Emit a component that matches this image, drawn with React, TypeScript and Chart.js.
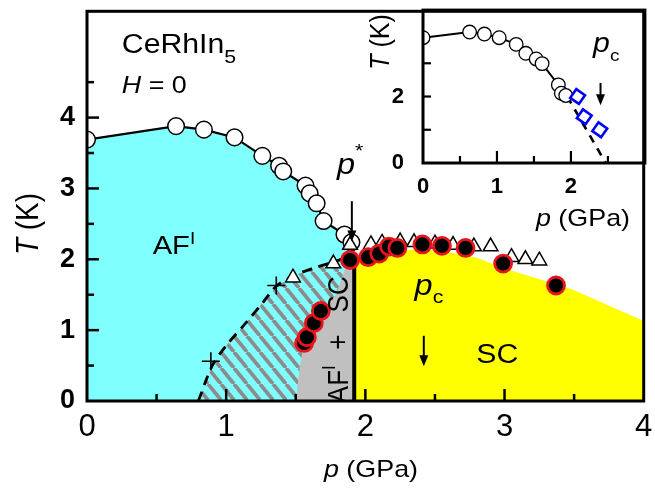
import React, { useEffect, useRef } from 'react';
import { Chart, registerables } from 'chart.js';
Chart.register(...registerables);

// ---------- main phase diagram data (p in GPa, T in K) ----------
const afP = [0, 0.64, 0.84, 1.06, 1.26, 1.38, 1.41, 1.57, 1.6, 1.65, 1.7, 1.85, 1.9];
const afT = [3.69, 3.88, 3.83, 3.72, 3.46, 3.32, 3.24, 3.04, 2.93, 2.79, 2.54, 2.35, 2.24];

const triP = [1.48, 1.77, 1.89, 2.04, 2.12, 2.25, 2.35, 2.5, 2.63, 2.78, 2.9, 3.05, 3.15, 3.25];
const triT = [1.74, 1.94, 2.2, 2.21, 2.23, 2.25, 2.24, 2.22, 2.2, 2.18, 2.18, 2.03, 2.0, 1.98];

const scP = [1.56, 1.58, 1.63, 1.68, 1.89, 2.02, 2.1, 2.17, 2.23, 2.41, 2.55, 2.72, 2.99, 3.37];
const scT = [0.82, 0.9, 1.1, 1.27, 1.99, 2.03, 2.08, 2.18, 2.16, 2.21, 2.19, 2.16, 1.94, 1.63];

const crossP = [0.89, 1.36];
const crossT = [0.56, 1.63];

const dashP = [0.8, 0.9, 1.0, 1.14, 1.26, 1.36, 1.5, 1.65, 1.8, 1.9];
const dashT = [0, 0.5, 0.78, 1.1, 1.38, 1.62, 1.78, 1.89, 1.98, 2.05];

const grayP = [1.5, 1.53, 1.56, 1.62, 1.7, 1.79, 1.86, 1.9, 1.92];
const grayT = [0, 0.5, 0.82, 1.1, 1.3, 1.5, 1.9, 2.0, 2.0];

const yelP = [1.92, 2.1, 2.4, 2.6, 2.8, 3.0, 3.48, 4.0];
const yelT = [1.98, 2.08, 2.15, 2.1, 2.02, 1.87, 1.58, 1.13];

const cyanEndP = [1.92];
const cyanEndT = [2.1];

const pcLineP = [1.92, 1.92];
const pcLineT = [0, 1.98];

// ---------- inset data ----------
const inCircP = [0, 0.63, 0.83, 1.03, 1.26, 1.39, 1.53, 1.61, 1.83, 1.87, 1.93];
const inCircT = [3.77, 3.94, 3.88, 3.77, 3.57, 3.3, 3.13, 2.99, 2.35, 2.1, 2.03];
const inSqP = [2.09, 2.18, 2.39];
const inSqT = [2.0, 1.39, 1.0];
const inDashP = [1.95, 2.47];
const inDashT = [2.0, 0];

const FONT = '"Liberation Sans", Arial, Helvetica, sans-serif';
const fnt = (size: number, style = '') => `${style} ${size}px ${FONT}`.trim();
const CYAN = '#80FFFF';
const YELLOW = '#FFFF00';
const GRAY = '#C0C0C0';
const SX = 1.12; // horizontal stretch of the lettering in the original figure

const pts = (ps: number[], ts: number[]) => ps.map((p, i) => ({ x: p, y: ts[i] }));

type Run = { t: string; font: string; dy?: number };
function runsWidth(ctx: CanvasRenderingContext2D, runs: Run[]) {
  let w = 0;
  for (const r of runs) { ctx.font = r.font; w += ctx.measureText(r.t).width; }
  return w;
}
// draws text runs; (sx, sy) stretch in the text's own frame
function drawRuns(ctx: CanvasRenderingContext2D, x: number, y: number, runs: Run[], center = false, sx = SX, sy = 1) {
  ctx.save();
  ctx.translate(x, y);
  ctx.scale(sx, sy);
  let cx = center ? -runsWidth(ctx, runs) / 2 : 0;
  ctx.textAlign = 'left';
  for (const r of runs) {
    ctx.font = r.font;
    ctx.fillText(r.t, cx, (r.dy || 0));
    cx += ctx.measureText(r.t).width;
  }
  ctx.restore();
}
function arrowDown(ctx: CanvasRenderingContext2D, x: number, y1: number, y2: number) {
  const head = 11, hw = 4.5;
  ctx.lineWidth = 2;
  ctx.beginPath(); ctx.moveTo(x, y1); ctx.lineTo(x, y2 - head + 1); ctx.stroke();
  ctx.beginPath(); ctx.moveTo(x - hw, y2 - head); ctx.lineTo(x + hw, y2 - head); ctx.lineTo(x, y2); ctx.closePath(); ctx.fill();
}

function makeHatch(): CanvasPattern | string {
  const w = 13, h = 16;
  const c = document.createElement('canvas');
  c.width = w; c.height = h;
  const g = c.getContext('2d');
  if (!g) return CYAN;
  g.fillStyle = CYAN; g.fillRect(0, 0, w, h);
  g.strokeStyle = '#8c8c8c'; g.lineWidth = 3.8;
  for (let k = -1; k <= 1; k++) {
    g.beginPath(); g.moveTo(k * w, 0); g.lineTo(k * w + w, h); g.stroke();
  }
  return g.createPattern(c, 'repeat') || CYAN;
}

const mainDecor = {
  id: 'mainDecor',
  afterDraw(chart: any) {
    const { ctx, chartArea: a, scales } = chart;
    const xs = scales.x, ys = scales.y;
    const X = (v: number) => xs.getPixelForValue(v);
    const Y = (v: number) => ys.getPixelForValue(v);
    ctx.save();
    ctx.fillStyle = '#000'; ctx.strokeStyle = '#000';
    ctx.textBaseline = 'alphabetic';

    // rotated AF^I + SC label (clipped to plot area)
    ctx.save();
    ctx.beginPath(); ctx.rect(a.left, a.top, a.right - a.left, a.bottom - a.top); ctx.clip();
    const rx = X(1.817);
    ctx.translate(rx, 0);
    ctx.rotate(-Math.PI / 2);
    ctx.textBaseline = 'middle';
    drawRuns(ctx, -Y(-0.03), 0, [{ t: 'AF', font: fnt(26) }, { t: 'I', font: fnt(17), dy: -9 }], false, 1, SX);
    drawRuns(ctx, -Y(0.83), 0, [{ t: '+', font: fnt(26) }], true, 1, SX);
    drawRuns(ctx, -Y(1.25), 0, [{ t: 'SC', font: fnt(26) }], false, 1, SX);
    ctx.restore();

    ctx.textBaseline = 'alphabetic';
    drawRuns(ctx, X(0.25), Y(4.917), [{ t: 'CeRhIn', font: fnt(27) }, { t: '5', font: fnt(19), dy: 10 }]);
    drawRuns(ctx, X(0.25), Y(4.35), [{ t: 'H', font: fnt(24, 'italic') }, { t: ' = 0', font: fnt(24) }]);
    drawRuns(ctx, X(0.472), Y(2.08), [{ t: 'AF', font: fnt(26) }, { t: 'I', font: fnt(17), dy: -10 }]);
    drawRuns(ctx, X(1.796), Y(3.21), [{ t: 'p', font: fnt(29, 'italic') }, { t: '*', font: fnt(19), dy: -17 }]);
    arrowDown(ctx, X(1.903), Y(2.82), Y(2.25));
    drawRuns(ctx, X(2.354), Y(1.5), [{ t: 'p', font: fnt(29, 'italic') }, { t: 'c', font: fnt(19), dy: 8 }]);
    arrowDown(ctx, X(2.42), Y(0.92), Y(0.49));
    drawRuns(ctx, X(2.948), Y(0.54), [{ t: 'SC', font: fnt(27) }], true);

    // inward ticks
    ctx.lineWidth = 2.5;
    xs.ticks.forEach((t: any) => {
      const v = t.value; if (v <= 0 || v >= 4) return;
      const px = X(v); const L = Number.isInteger(v) ? 12 : 7;
      ctx.beginPath(); ctx.moveTo(px, a.bottom); ctx.lineTo(px, a.bottom - L); ctx.stroke();
    });
    ys.ticks.forEach((t: any) => {
      const v = t.value; if (v <= 0 || v > 4.5) return;
      const py = Y(v); const L = Number.isInteger(v) ? 12 : 7;
      ctx.beginPath(); ctx.moveTo(a.left, py); ctx.lineTo(a.left + L, py); ctx.stroke();
    });
    ctx.lineWidth = 3;
    ctx.strokeRect(a.left, a.top, a.right - a.left, a.bottom - a.top);

    // axis titles
    ctx.save();
    ctx.translate(29, 224);
    ctx.rotate(-Math.PI / 2);
    ctx.textBaseline = 'middle';
    drawRuns(ctx, 0, 0, [{ t: 'T', font: fnt(28, 'italic') }, { t: ' (K)', font: fnt(28) }], true, 1, SX);
    ctx.restore();
    ctx.textBaseline = 'alphabetic';
    drawRuns(ctx, 371, 477, [{ t: 'p', font: fnt(24, 'italic') }, { t: ' (GPa)', font: fnt(24) }], true);
    ctx.restore();
  },
};

const insetDecor = {
  id: 'insetDecor',
  afterDraw(chart: any) {
    const { ctx, chartArea: a, scales } = chart;
    const xs = scales.x, ys = scales.y;
    const X = (v: number) => xs.getPixelForValue(v);
    const Y = (v: number) => ys.getPixelForValue(v);
    ctx.save();
    ctx.fillStyle = '#000'; ctx.strokeStyle = '#000';
    ctx.textBaseline = 'alphabetic';
    drawRuns(ctx, X(2.3), Y(3.35), [{ t: 'p', font: fnt(27, 'italic') }, { t: 'c', font: fnt(17), dy: 9 }]);
    arrowDown(ctx, X(2.4), Y(2.41), Y(1.74));
    ctx.lineWidth = 2.2;
    xs.ticks.forEach((t: any) => {
      const v = t.value; if (v <= 0 || v >= 3) return;
      const px = X(v); const L = Number.isInteger(v) ? 12 : 7;
      ctx.beginPath(); ctx.moveTo(px, a.bottom); ctx.lineTo(px, a.bottom - L); ctx.stroke();
    });
    ys.ticks.forEach((t: any) => {
      const v = t.value; if (v <= 0 || v > 3.5) return;
      const py = Y(v);
      ctx.beginPath(); ctx.moveTo(a.left, py); ctx.lineTo(a.left + 8, py); ctx.stroke();
    });
    ctx.lineWidth = 3;
    ctx.strokeRect(a.left, a.top, a.right - a.left, a.bottom - a.top);
    ctx.save();
    ctx.translate(21, 42);
    ctx.rotate(-Math.PI / 2);
    ctx.textBaseline = 'middle';
    drawRuns(ctx, 0, 0, [{ t: 'T', font: fnt(25, 'italic') }, { t: ' (K)', font: fnt(25) }], true, 1, SX);
    ctx.restore();
    ctx.textBaseline = 'alphabetic';
    drawRuns(ctx, 223, 226, [{ t: 'p', font: fnt(24, 'italic') }, { t: ' (GPa)', font: fnt(24) }], true);
    ctx.restore();
  },
};

export default function App() {
  const mainRef = useRef<HTMLCanvasElement>(null);
  const insetRef = useRef<HTMLCanvasElement>(null);

  useEffect(() => {
    if (!mainRef.current || !insetRef.current) return;
    const hatch = makeHatch();
    const fillDs = (data: any[], color: any, order: number) => ({
      data, showLine: true, borderWidth: 0, pointRadius: 0, fill: 'origin', backgroundColor: color, order, clip: 0,
    });
    const main = new Chart(mainRef.current, {
      type: 'line',
      data: {
        datasets: [
          {
            data: pts(scP, scT), showLine: false, pointRadius: 8.5, pointBackgroundColor: '#000',
            pointBorderColor: '#e8141c', pointBorderWidth: 2.8, order: 0, clip: 0,
          },
          {
            data: pts(triP, triT), showLine: false, pointStyle: 'triangle', pointRadius: 8.5,
            pointBackgroundColor: '#fff', pointBorderColor: '#000', pointBorderWidth: 1.5, order: 1, clip: 0,
          },
          {
            data: pts(afP, afT), showLine: true, borderColor: '#000', borderWidth: 2.2, pointRadius: 8.3,
            pointBackgroundColor: '#fff', pointBorderColor: '#000', pointBorderWidth: 1.5, order: 2, clip: 0, tension: 0,
          },
          {
            data: pts(crossP, crossT), showLine: false, pointStyle: 'cross', pointRadius: 9,
            pointBorderColor: '#000', pointBorderWidth: 1.6, order: 3, clip: 0,
          },
          {
            data: pts(dashP, dashT), showLine: true, borderColor: '#000', borderWidth: 2.8, borderDash: [10, 7],
            pointRadius: 0, order: 4, clip: 0, tension: 0.3,
          },
          {
            data: pts(pcLineP, pcLineT), showLine: true, borderColor: '#000', borderWidth: 4, pointRadius: 0, order: 5, clip: 0,
          },
          fillDs(pts(grayP, grayT), GRAY, 6),
          fillDs(pts([...dashP, 1.92], [...dashT, 2.05]), hatch, 7),
          fillDs(pts(yelP, yelT), YELLOW, 8),
          fillDs(pts([...afP, ...cyanEndP], [...afT, ...cyanEndT]), CYAN, 9),
        ] as any,
      },
      options: {
        animation: false,
        responsive: false,
        events: [],
        layout: { padding: { top: 6, right: 9, left: 0, bottom: 0 } },
        plugins: { legend: { display: false }, tooltip: { enabled: false } },
        scales: {
          x: {
            type: 'linear', min: 0, max: 4,
            grid: { display: false, drawTicks: false },
            border: { display: false },
            ticks: {
              stepSize: 0.5, autoSkip: false, maxRotation: 0, padding: 8, color: '#000',
              font: { family: FONT, size: 31 },
              callback: (v: any) => (Number.isInteger(v) ? String(v) : ''),
            },
            afterFit: (s: any) => { s.height = 91; s.paddingLeft = 0; s.paddingRight = 0; },
          },
          y: {
            type: 'linear', min: 0, max: 5.5,
            grid: { display: false, drawTicks: false },
            border: { display: false },
            ticks: {
              stepSize: 0.5, autoSkip: false, padding: 12, color: '#000',
              font: { family: FONT, size: 27, weight: 'bold' },
              callback: (v: any) => (Number.isInteger(v) && v <= 4 ? String(v) : ''),
            },
            afterFit: (s: any) => { s.width = 87; s.paddingTop = 0; s.paddingBottom = 0; },
          },
        },
      } as any,
      plugins: [mainDecor],
    });

    const inset = new Chart(insetRef.current, {
      type: 'line',
      data: {
        datasets: [
          {
            data: pts(inSqP, inSqT), showLine: false, pointStyle: 'rect', pointRotation: 35, pointRadius: 7.5,
            pointBackgroundColor: '#fff', pointBorderColor: '#0000ff', pointBorderWidth: 2.6, order: 0, clip: 0,
          },
          {
            data: pts(inCircP, inCircT), showLine: true, borderColor: '#000', borderWidth: 2, pointRadius: 6.8,
            pointBackgroundColor: '#fff', pointBorderColor: '#000', pointBorderWidth: 1.3, order: 1, clip: 0,
          },
          {
            data: pts(inDashP, inDashT), showLine: true, borderColor: '#000', borderWidth: 2.6, borderDash: [8, 7],
            pointRadius: 0, order: 2, clip: 0,
          },
        ] as any,
      },
      options: {
        animation: false,
        responsive: false,
        events: [],
        layout: { padding: { top: 6, right: 9, left: 0, bottom: 0 } },
        plugins: { legend: { display: false }, tooltip: { enabled: false } },
        scales: {
          x: {
            type: 'linear', min: 0, max: 3,
            grid: { display: false, drawTicks: false },
            border: { display: false },
            ticks: {
              stepSize: 0.5, autoSkip: false, maxRotation: 0, padding: 11, color: '#000',
              font: { family: FONT, size: 22, weight: 'bold' },
              callback: (v: any) => (Number.isInteger(v) && v <= 2 ? String(v) : ''),
            },
            afterFit: (s: any) => { s.height = 72; s.paddingLeft = 0; s.paddingRight = 0; },
          },
          y: {
            type: 'linear', min: 0, max: 4.6,
            grid: { display: false, drawTicks: false },
            border: { display: false },
            ticks: {
              stepSize: 1, autoSkip: false, padding: 19, color: '#000',
              font: { family: FONT, size: 22, weight: 'bold' },
              callback: (v: any) => (v === 0 || v === 2 ? String(v) : ''),
            },
            afterFit: (s: any) => { s.width = 63; s.paddingTop = 0; s.paddingBottom = 0; },
          },
        },
      } as any,
      plugins: [insetDecor],
    });

    return () => { main.destroy(); inset.destroy(); };
  }, []);

  return (
    <div style={{ position: 'absolute', left: 0, top: 0, width: 655, height: 492, background: '#fff' }}>
      <canvas ref={mainRef} width={655} height={492} style={{ position: 'absolute', left: 0, top: 0, width: 655, height: 492 }} />
      <canvas ref={insetRef} width={295} height={235} style={{ position: 'absolute', left: 360, top: 0, width: 295, height: 235 }} />
    </div>
  );
}
